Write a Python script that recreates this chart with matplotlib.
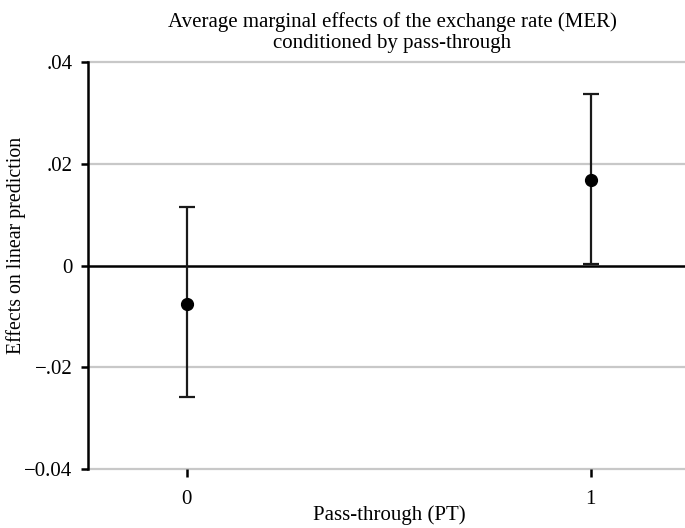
import numpy as np
import matplotlib.pyplot as plt

plt.rcParams['font.family'] = ['Liberation Serif', 'DejaVu Serif']

# data
pt_levels = [0, 1]
pt_labels = ["0", "1"]
margins = [-0.0075, 0.0169]
ci_low = [-0.0259, 0.0002]
ci_high = [0.0115, 0.0337]

y_ticks = [-0.04, -0.02, 0, 0.02, 0.04]
y_tick_labels = ["\u22120.04", "\u2212.02", "0", ".02", ".04"]

fig = plt.figure(figsize=(6.85, 5.28), dpi=100)
ax = fig.add_axes([0.128, 0.1117, 0.872, 0.7709])

ax.set_xlim(-0.245, 1.233)
ax.set_ylim(-0.04, 0.04)

# gridlines
for yv in y_ticks:
    if yv == 0:
        ax.axhline(yv, color="black", lw=1.8, zorder=2)
    else:
        ax.axhline(yv, color="#c8c8c8", lw=1.6, zorder=1, clip_on=False)

x = np.array(pt_levels)
m = np.array(margins)
yerr = np.array([m - np.array(ci_low), np.array(ci_high) - m])
ax.errorbar(x, m, yerr=yerr, fmt="o", color="black", ecolor="#1a1a1a",
            elinewidth=1.6, capsize=5.5, capthick=1.6, markersize=8.5, zorder=3)

for s in ["top", "right", "bottom"]:
    ax.spines[s].set_visible(False)
ax.spines["left"].set_linewidth(1.8)
ax.spines["left"].set_color("black")

ax.set_yticks(y_ticks)
ax.set_yticklabels(y_tick_labels, fontsize=15)
ax.set_xticks(pt_levels)
ax.set_xticklabels(pt_labels, fontsize=15)
ax.tick_params(axis="y", length=5, width=1.8, pad=6, color="black")
ax.tick_params(axis="x", length=6, width=1.8, pad=9, color="black")

ax.set_xlabel("Pass-through (PT)", fontsize=15)
ax.set_ylabel("Effects on linear prediction", fontsize=14.3)
ax.xaxis.set_label_coords(0.505, -0.088)
ax.yaxis.set_label_coords(-0.104, 0.55)
ax.set_title("Average marginal effects of the exchange rate (MER)\nconditioned by pass-through",
             fontsize=15, pad=10, linespacing=1.15, x=0.51)

fig.savefig("out.png", dpi=100)
